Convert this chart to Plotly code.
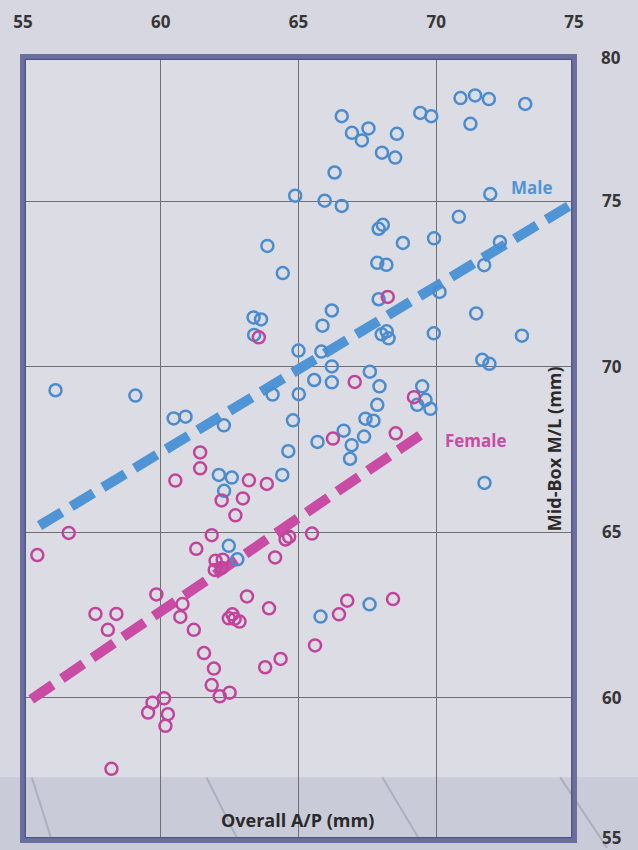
import plotly.graph_objects as go

# ---------------- data ----------------
male_x = [70.88, 71.41, 71.91, 73.23, 71.24, 69.42, 69.82, 66.57, 66.94, 67.54,
          67.30, 68.57, 68.03, 68.51, 66.31, 64.88, 65.95, 66.57, 71.96, 70.82,
          67.91, 68.06, 68.79, 69.92, 72.31, 71.74, 67.86, 68.19, 67.91, 70.12,
          71.45, 66.21, 65.87, 63.87, 64.43, 63.37, 63.64, 63.39, 65.00, 65.83,
          69.91, 73.11, 68.02, 68.20, 68.27, 71.67, 71.93, 66.21, 65.57, 66.21,
          67.59, 67.94, 65.01, 69.49, 69.31, 69.61, 69.79, 67.86, 67.43, 67.72,
          66.64, 67.38, 66.93, 65.69, 66.87, 71.75, 56.18, 59.08, 60.47, 60.90,
          62.29, 64.06, 64.80, 64.63, 64.41, 62.11, 62.58, 62.30, 62.47, 62.78,
          65.80, 67.58]
male_y = [78.12, 78.20, 78.09, 77.94, 77.34, 77.67, 77.57, 77.57, 77.07, 77.20,
          76.84, 77.04, 76.47, 76.32, 75.87, 75.17, 75.02, 74.86, 75.22, 74.53,
          74.17, 74.29, 73.74, 73.88, 73.77, 73.07, 73.14, 73.08, 72.04, 72.26,
          71.61, 71.70, 71.24, 73.65, 72.83, 71.49, 71.43, 70.96, 70.49, 70.46,
          71.01, 70.94, 70.98, 71.07, 70.86, 70.21, 70.09, 70.01, 69.60, 69.53,
          69.85, 69.41, 69.17, 69.41, 68.85, 69.00, 68.73, 68.85, 68.43, 68.37,
          68.07, 67.89, 67.63, 67.73, 67.22, 66.49, 69.29, 69.13, 68.44, 68.49,
          68.23, 69.16, 68.38, 67.45, 66.73, 66.73, 66.65, 66.25, 64.59, 64.18,
          62.45, 62.82]

female_x = [68.24, 63.56, 67.04, 69.19, 66.25, 68.53, 61.43, 61.43, 60.53, 63.20,
            63.85, 62.21, 62.98, 62.71, 56.66, 55.52, 61.85, 61.29, 65.49, 64.53,
            64.66, 64.15, 61.99, 62.25, 61.96, 62.21, 59.84, 57.63, 58.39, 58.08,
            60.79, 60.71, 61.20, 63.13, 63.93, 62.47, 62.60, 62.86, 62.68, 61.57,
            61.93, 61.85, 62.14, 62.50, 63.79, 64.35, 65.60, 59.70, 59.54, 60.12,
            60.26, 60.17, 58.21, 66.47, 66.77, 68.43]
female_y = [72.11, 70.89, 69.54, 69.08, 67.83, 67.99, 67.41, 66.93, 66.56, 66.57,
            66.46, 65.96, 66.02, 65.51, 64.98, 64.31, 64.91, 64.50, 64.96, 64.78,
            64.86, 64.24, 64.14, 64.17, 63.86, 63.92, 63.12, 62.53, 62.53, 62.05,
            62.83, 62.44, 62.05, 63.06, 62.70, 62.40, 62.52, 62.30, 62.38, 61.35,
            60.88, 60.38, 60.04, 60.15, 60.92, 61.17, 61.58, 59.85, 59.55, 59.98,
            59.50, 59.15, 57.85, 62.52, 62.93, 62.98]

# trend lines (end points)
male_fit_x = [55.6, 74.8]
male_fit_y = [65.2, 74.85]
female_fit_x = [55.3, 69.45]
female_fit_y = [59.95, 67.95]

x_ticks = [55, 60, 65, 70, 75]
y_ticks = [60, 65, 70, 75]
y_range = [55.70, 79.36]
x_range = [55, 75]

# ---------------- style ----------------
BLUE = "#4a8ccd"
BLUE_LINE = "#4f95d6"
MAGENTA = "#c2449a"
MAGENTA_LINE = "#c94ba3"
PAPER = "#d7d7e2"
PLOT = "#dcdce5"
BAND = "#cacbd8"
FRAME = "#6a6f9f"
GRID = "#6f6f72"
TXT = "#363636"
FONT = "Open Sans"

fig = go.Figure()

fig.add_trace(go.Scatter(x=male_fit_x, y=male_fit_y, mode="lines",
                         line=dict(color=BLUE_LINE, width=10, dash="26px,11px"),
                         hoverinfo="skip", showlegend=False))
fig.add_trace(go.Scatter(x=female_fit_x, y=female_fit_y, mode="lines",
                         line=dict(color=MAGENTA_LINE, width=10, dash="26px,11px"),
                         hoverinfo="skip", showlegend=False))
fig.add_trace(go.Scatter(x=male_x, y=male_y, mode="markers", name="Male",
                         marker=dict(symbol="circle-open", size=12, color=BLUE,
                                     line=dict(width=2.5, color=BLUE)),
                         showlegend=False))
fig.add_trace(go.Scatter(x=female_x, y=female_y, mode="markers", name="Female",
                         marker=dict(symbol="circle-open", size=12, color=MAGENTA,
                                     line=dict(width=2.5, color=MAGENTA)),
                         showlegend=False))

shapes = [
    # darker floor band at the bottom of the photo
    dict(type="rect", xref="paper", yref="paper", x0=-0.06, x1=1.2, y0=-0.05, y1=0.08,
         fillcolor=BAND, line=dict(width=0), layer="below"),
    # masks behind the axis titles (hide grid lines there)
    dict(type="rect", xref="paper", yref="paper", x0=0.926, x1=0.998, y0=0.383, y1=0.62,
         fillcolor=PLOT, line=dict(width=0), layer="between"),
    dict(type="rect", xref="paper", yref="paper", x0=0.34, x1=0.665, y0=0.0, y1=0.051,
         fillcolor=BAND, line=dict(width=0), layer="between"),
    # faint diagonal floor lines
    dict(type="line", xref="paper", yref="paper", x0=0.016, y0=0.08, x1=0.052, y1=0.0,
         line=dict(color="rgba(120,120,145,0.35)", width=2), layer="below"),
    dict(type="line", xref="paper", yref="paper", x0=0.333, y0=0.08, x1=0.39, y1=0.0,
         line=dict(color="rgba(120,120,145,0.35)", width=2), layer="below"),
    dict(type="line", xref="paper", yref="paper", x0=0.652, y0=0.08, x1=0.72, y1=0.0,
         line=dict(color="rgba(120,120,145,0.35)", width=2), layer="below"),
    dict(type="line", xref="paper", yref="paper", x0=0.975, y0=0.08, x1=1.06, y1=-0.01,
         line=dict(color="rgba(120,120,145,0.35)", width=2), layer="below"),
    # frame
    dict(type="rect", xref="paper", yref="paper", x0=0, x1=1, y0=0, y1=1,
         line=dict(color=FRAME, width=6), layer="above"),
    dict(type="rect", xref="paper", yref="paper", x0=0.004, x1=0.996, y0=0.003, y1=0.997,
         line=dict(color="#4a4f7e", width=1), layer="above"),
]

annotations = [
    dict(text="Male", x=73.49, y=75.43, xref="x", yref="y", showarrow=False,
         font=dict(family=FONT, size=17, color=BLUE_LINE, weight=700)),
    dict(text="Female", x=71.46, y=67.77, xref="x", yref="y", showarrow=False,
         font=dict(family=FONT, size=17, color=MAGENTA_LINE, weight=700)),
    dict(text="Mid-Box M/L (mm)", x=74.25, y=67.52, xref="x", yref="y", showarrow=False,
         textangle=-90, font=dict(family=FONT, size=18, color="#2a2a2a", weight=700)),
    dict(text="Overall A/P (mm)", x=64.97, y=56.30, xref="x", yref="y", showarrow=False,
         font=dict(family=FONT, size=18, color="#2a2a2a", weight=700)),
    dict(text="80", x=1.068, y=1.0, xref="paper", yref="paper", showarrow=False,
         xanchor="center", yanchor="middle",
         font=dict(family=FONT, size=17, color=TXT, weight=700)),
    dict(text="55", x=1.068, y=0.003, xref="paper", yref="paper", showarrow=False,
         xanchor="center", yanchor="middle",
         font=dict(family=FONT, size=17, color=TXT, weight=700)),
]

fig.update_layout(
    width=638, height=850,
    margin=dict(l=23, r=64, t=52, b=10),
    paper_bgcolor=PAPER, plot_bgcolor=PLOT,
    shapes=shapes, annotations=annotations,
    showlegend=False,
    font=dict(family=FONT, color=TXT),
)
fig.update_xaxes(range=x_range, side="top", tickvals=x_ticks, showgrid=True,
                 gridcolor=GRID, gridwidth=1, zeroline=False, showline=False, ticks="",
                 ticklabelstandoff=25,
                 tickfont=dict(family=FONT, size=17, color=TXT, weight=700))
fig.update_yaxes(range=y_range, side="right", tickvals=y_ticks, showgrid=True,
                 gridcolor=GRID, gridwidth=1, zeroline=False, showline=False, ticks="",
                 ticklabelstandoff=27,
                 tickfont=dict(family=FONT, size=17, color=TXT, weight=700))

fig.write_html(
    "out.html",
    config={"displayModeBar": False},
    post_script=("document.body.style.margin='0';"
                 "document.body.style.overflow='hidden';"
                 "document.body.style.background='" + PAPER + "';"),
)
